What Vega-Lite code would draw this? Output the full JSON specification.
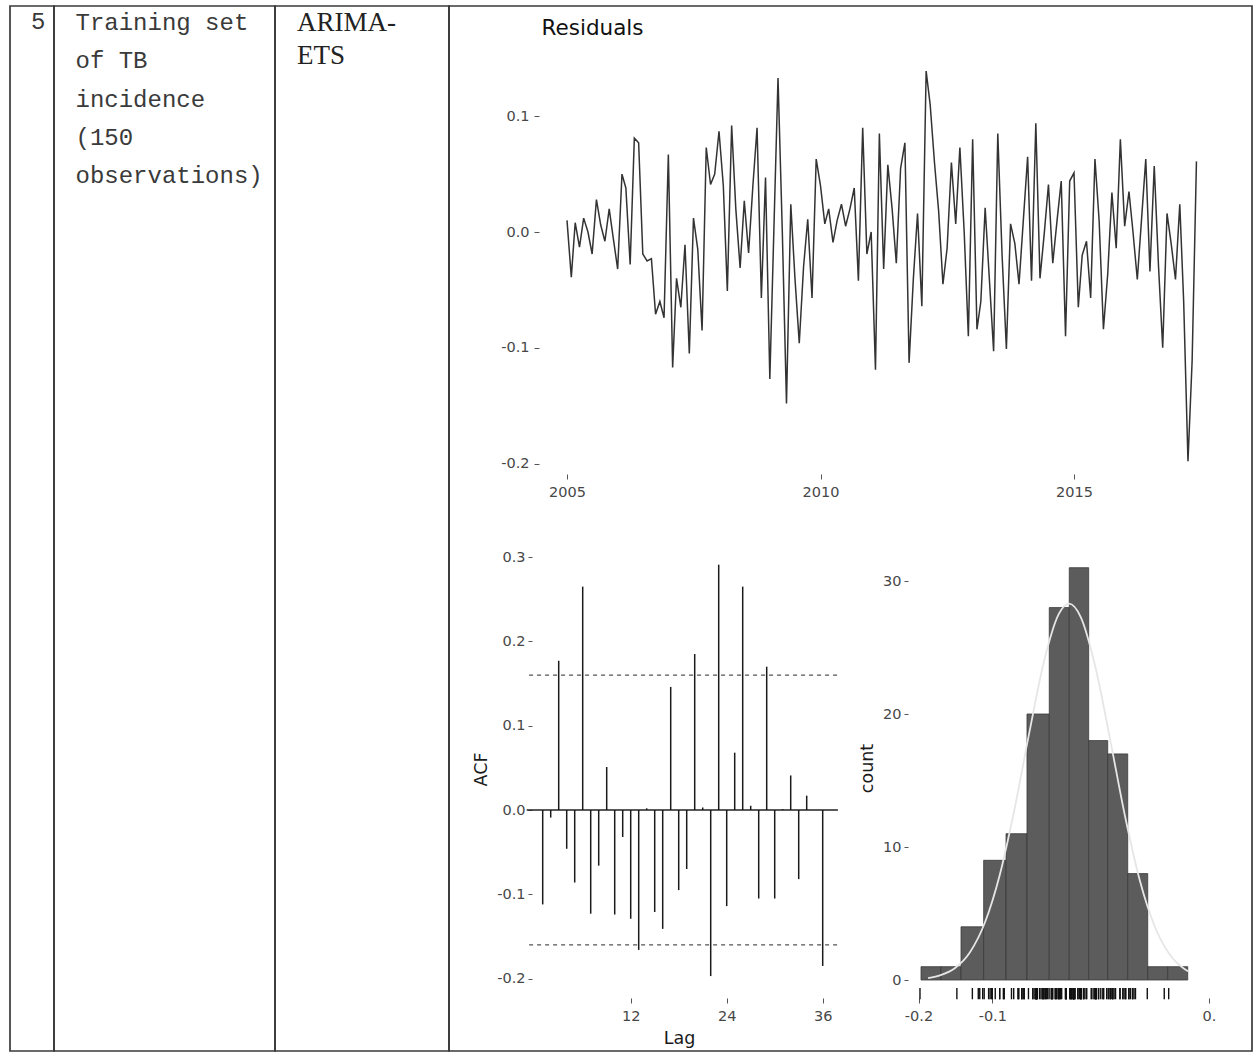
{
  "$schema": "https://vega.github.io/schema/vega-lite/v6.json",
  "background": "white",
  "padding": {"left": 9, "top": 5, "right": 4, "bottom": 5},
  "spacing": 0,
  "bounds": "flush",
  "config": {
    "font": "DejaVu Sans",
    "view": {"stroke": "#3a3a3a", "strokeWidth": 1.7},
    "axis": {
      "grid": false,
      "domain": false,
      "labelFont": "DejaVu Sans",
      "labelFontSize": 14.5,
      "labelColor": "#474747",
      "labelFlush": false,
      "labelOverlap": false,
      "tickColor": "#555555",
      "tickSize": 5,
      "tickWidth": 1,
      "titleFont": "DejaVu Sans",
      "titleFontWeight": "normal",
      "titleFontSize": 17.5,
      "titleColor": "#1a1a1a"
    }
  },
  "datasets": {
    "cellText": [
      {"cell": "no", "line": 1, "text": "5"},
      {"cell": "data", "line": 1, "text": "Training set"},
      {"cell": "data", "line": 2, "text": "of TB"},
      {"cell": "data", "line": 3, "text": "incidence"},
      {"cell": "data", "line": 4, "text": "(150"},
      {"cell": "data", "line": 5, "text": "observations)"},
      {"cell": "model", "line": 1, "text": "ARIMA-"},
      {"cell": "model", "line": 2, "text": "ETS"}
    ],
    "residuals": [
      {"month": "2005-01", "resid": 0.010}, {"month": "2005-02", "resid": -0.039}, {"month": "2005-03", "resid": 0.008}, {"month": "2005-04", "resid": -0.013},
      {"month": "2005-05", "resid": 0.012}, {"month": "2005-06", "resid": 0.000}, {"month": "2005-07", "resid": -0.019}, {"month": "2005-08", "resid": 0.028},
      {"month": "2005-09", "resid": 0.006}, {"month": "2005-10", "resid": -0.008}, {"month": "2005-11", "resid": 0.020}, {"month": "2005-12", "resid": -0.006},
      {"month": "2006-01", "resid": -0.032}, {"month": "2006-02", "resid": 0.050}, {"month": "2006-03", "resid": 0.038}, {"month": "2006-04", "resid": -0.028},
      {"month": "2006-05", "resid": 0.081}, {"month": "2006-06", "resid": 0.077}, {"month": "2006-07", "resid": -0.019}, {"month": "2006-08", "resid": -0.025},
      {"month": "2006-09", "resid": -0.023}, {"month": "2006-10", "resid": -0.071}, {"month": "2006-11", "resid": -0.060}, {"month": "2006-12", "resid": -0.074},
      {"month": "2007-01", "resid": 0.067}, {"month": "2007-02", "resid": -0.117}, {"month": "2007-03", "resid": -0.040}, {"month": "2007-04", "resid": -0.065},
      {"month": "2007-05", "resid": -0.011}, {"month": "2007-06", "resid": -0.105}, {"month": "2007-07", "resid": 0.012}, {"month": "2007-08", "resid": -0.015},
      {"month": "2007-09", "resid": -0.085}, {"month": "2007-10", "resid": 0.073}, {"month": "2007-11", "resid": 0.041}, {"month": "2007-12", "resid": 0.050},
      {"month": "2008-01", "resid": 0.087}, {"month": "2008-02", "resid": 0.040}, {"month": "2008-03", "resid": -0.051}, {"month": "2008-04", "resid": 0.092},
      {"month": "2008-05", "resid": 0.020}, {"month": "2008-06", "resid": -0.031}, {"month": "2008-07", "resid": 0.027}, {"month": "2008-08", "resid": -0.018},
      {"month": "2008-09", "resid": 0.040}, {"month": "2008-10", "resid": 0.090}, {"month": "2008-11", "resid": -0.057}, {"month": "2008-12", "resid": 0.047},
      {"month": "2009-01", "resid": -0.127}, {"month": "2009-02", "resid": 0.010}, {"month": "2009-03", "resid": 0.133}, {"month": "2009-04", "resid": 0.000},
      {"month": "2009-05", "resid": -0.148}, {"month": "2009-06", "resid": 0.024}, {"month": "2009-07", "resid": -0.040}, {"month": "2009-08", "resid": -0.096},
      {"month": "2009-09", "resid": -0.030}, {"month": "2009-10", "resid": 0.011}, {"month": "2009-11", "resid": -0.057}, {"month": "2009-12", "resid": 0.063},
      {"month": "2010-01", "resid": 0.040}, {"month": "2010-02", "resid": 0.007}, {"month": "2010-03", "resid": 0.020}, {"month": "2010-04", "resid": -0.009},
      {"month": "2010-05", "resid": 0.010}, {"month": "2010-06", "resid": 0.024}, {"month": "2010-07", "resid": 0.005}, {"month": "2010-08", "resid": 0.020},
      {"month": "2010-09", "resid": 0.038}, {"month": "2010-10", "resid": -0.042}, {"month": "2010-11", "resid": 0.090}, {"month": "2010-12", "resid": -0.019},
      {"month": "2011-01", "resid": 0.000}, {"month": "2011-02", "resid": -0.119}, {"month": "2011-03", "resid": 0.085}, {"month": "2011-04", "resid": -0.032},
      {"month": "2011-05", "resid": 0.058}, {"month": "2011-06", "resid": 0.020}, {"month": "2011-07", "resid": -0.027}, {"month": "2011-08", "resid": 0.055},
      {"month": "2011-09", "resid": 0.077}, {"month": "2011-10", "resid": -0.113}, {"month": "2011-11", "resid": -0.040}, {"month": "2011-12", "resid": 0.016},
      {"month": "2012-01", "resid": -0.064}, {"month": "2012-02", "resid": 0.139}, {"month": "2012-03", "resid": 0.110}, {"month": "2012-04", "resid": 0.060},
      {"month": "2012-05", "resid": 0.018}, {"month": "2012-06", "resid": -0.045}, {"month": "2012-07", "resid": -0.014}, {"month": "2012-08", "resid": 0.060},
      {"month": "2012-09", "resid": 0.007}, {"month": "2012-10", "resid": 0.073}, {"month": "2012-11", "resid": 0.000}, {"month": "2012-12", "resid": -0.090},
      {"month": "2013-01", "resid": 0.080}, {"month": "2013-02", "resid": -0.084}, {"month": "2013-03", "resid": -0.060}, {"month": "2013-04", "resid": 0.021},
      {"month": "2013-05", "resid": -0.040}, {"month": "2013-06", "resid": -0.103}, {"month": "2013-07", "resid": 0.085}, {"month": "2013-08", "resid": -0.020},
      {"month": "2013-09", "resid": -0.101}, {"month": "2013-10", "resid": 0.007}, {"month": "2013-11", "resid": -0.010}, {"month": "2013-12", "resid": -0.045},
      {"month": "2014-01", "resid": 0.010}, {"month": "2014-02", "resid": 0.065}, {"month": "2014-03", "resid": -0.042}, {"month": "2014-04", "resid": 0.094},
      {"month": "2014-05", "resid": -0.040}, {"month": "2014-06", "resid": -0.001}, {"month": "2014-07", "resid": 0.041}, {"month": "2014-08", "resid": -0.027},
      {"month": "2014-09", "resid": 0.010}, {"month": "2014-10", "resid": 0.044}, {"month": "2014-11", "resid": -0.090}, {"month": "2014-12", "resid": 0.044},
      {"month": "2015-01", "resid": 0.051}, {"month": "2015-02", "resid": -0.065}, {"month": "2015-03", "resid": -0.020}, {"month": "2015-04", "resid": -0.008},
      {"month": "2015-05", "resid": -0.057}, {"month": "2015-06", "resid": 0.063}, {"month": "2015-07", "resid": 0.010}, {"month": "2015-08", "resid": -0.084},
      {"month": "2015-09", "resid": -0.036}, {"month": "2015-10", "resid": 0.034}, {"month": "2015-11", "resid": -0.014}, {"month": "2015-12", "resid": 0.080},
      {"month": "2016-01", "resid": 0.005}, {"month": "2016-02", "resid": 0.035}, {"month": "2016-03", "resid": 0.000}, {"month": "2016-04", "resid": -0.041},
      {"month": "2016-05", "resid": 0.010}, {"month": "2016-06", "resid": 0.063}, {"month": "2016-07", "resid": -0.034}, {"month": "2016-08", "resid": 0.057},
      {"month": "2016-09", "resid": -0.030}, {"month": "2016-10", "resid": -0.100}, {"month": "2016-11", "resid": 0.016}, {"month": "2016-12", "resid": -0.010},
      {"month": "2017-01", "resid": -0.041}, {"month": "2017-02", "resid": 0.024}, {"month": "2017-03", "resid": -0.060}, {"month": "2017-04", "resid": -0.198},
      {"month": "2017-05", "resid": -0.111}, {"month": "2017-06", "resid": 0.061}
    ],
    "acf": [
      {"lag": 1, "acf": -0.112}, {"lag": 2, "acf": -0.009}, {"lag": 3, "acf": 0.177}, {"lag": 4, "acf": -0.046},
      {"lag": 5, "acf": -0.086}, {"lag": 6, "acf": 0.265}, {"lag": 7, "acf": -0.123}, {"lag": 8, "acf": -0.066},
      {"lag": 9, "acf": 0.051}, {"lag": 10, "acf": -0.124}, {"lag": 11, "acf": -0.032}, {"lag": 12, "acf": -0.129},
      {"lag": 13, "acf": -0.166}, {"lag": 14, "acf": 0.002}, {"lag": 15, "acf": -0.121}, {"lag": 16, "acf": -0.141},
      {"lag": 17, "acf": 0.146}, {"lag": 18, "acf": -0.095}, {"lag": 19, "acf": -0.070}, {"lag": 20, "acf": 0.185},
      {"lag": 21, "acf": 0.003}, {"lag": 22, "acf": -0.197}, {"lag": 23, "acf": 0.291}, {"lag": 24, "acf": -0.114},
      {"lag": 25, "acf": 0.068}, {"lag": 26, "acf": 0.265}, {"lag": 27, "acf": 0.005}, {"lag": 28, "acf": -0.105},
      {"lag": 29, "acf": 0.170}, {"lag": 30, "acf": -0.105}, {"lag": 31, "acf": 0.001}, {"lag": 32, "acf": 0.041},
      {"lag": 33, "acf": -0.082}, {"lag": 34, "acf": 0.017}, {"lag": 35, "acf": 0.000}, {"lag": 36, "acf": -0.185}
    ],
    "acfRefs": [
      {"kind": "zero", "level": 0},
      {"kind": "bound", "level": 0.16},
      {"kind": "bound", "level": -0.16}
    ],
    "bins": [
      {"bin_start": -0.1966, "bin_end": -0.1695, "count": 1},
      {"bin_start": -0.1695, "bin_end": -0.1424, "count": 1},
      {"bin_start": -0.1424, "bin_end": -0.1117, "count": 4},
      {"bin_start": -0.1117, "bin_end": -0.0814, "count": 9},
      {"bin_start": -0.0814, "bin_end": -0.0530, "count": 11},
      {"bin_start": -0.0530, "bin_end": -0.0228, "count": 20},
      {"bin_start": -0.0228, "bin_end": 0.0043, "count": 28},
      {"bin_start": 0.0043, "bin_end": 0.0306, "count": 31},
      {"bin_start": 0.0306, "bin_end": 0.0564, "count": 18},
      {"bin_start": 0.0564, "bin_end": 0.0835, "count": 17},
      {"bin_start": 0.0835, "bin_end": 0.1106, "count": 8},
      {"bin_start": 0.1106, "bin_end": 0.1377, "count": 1},
      {"bin_start": 0.1377, "bin_end": 0.1648, "count": 1}
    ],
    "normalCurve": [
      {"v": -0.187, "dens": 0.14}, {"v": -0.17, "dens": 0.36}, {"v": -0.15, "dens": 0.92}, {"v": -0.13, "dens": 2.11},
      {"v": -0.11, "dens": 4.32}, {"v": -0.09, "dens": 7.88}, {"v": -0.07, "dens": 12.82}, {"v": -0.05, "dens": 18.56},
      {"v": -0.03, "dens": 23.94}, {"v": -0.01, "dens": 27.51}, {"v": 0.004, "dens": 28.3}, {"v": 0.02, "dens": 27.27},
      {"v": 0.04, "dens": 23.46}, {"v": 0.06, "dens": 17.98}, {"v": 0.08, "dens": 12.27}, {"v": 0.10, "dens": 7.46},
      {"v": 0.12, "dens": 4.04}, {"v": 0.14, "dens": 1.95}, {"v": 0.16, "dens": 0.84}, {"v": 0.166, "dens": 0.64}
    ]
  },
  "hconcat": [
    {
      "width": 44,
      "height": 1045,
      "data": {"name": "cellText"},
      "transform": [{"filter": "datum.cell == 'no'"}],
      "mark": {"type": "text", "font": "Liberation Mono", "fontSize": 24, "align": "left", "baseline": "alphabetic", "color": "#3a3a3a", "dx": 21},
      "encoding": {
        "x": {"datum": 0, "type": "quantitative", "scale": {"domain": [0, 1]}, "axis": null},
        "y": {"field": "line", "type": "quantitative", "scale": {"domain": [1, 5], "range": [23.3, 176.7]}, "axis": null},
        "text": {"field": "text"}
      }
    },
    {
      "width": 221,
      "height": 1045,
      "data": {"name": "cellText"},
      "transform": [{"filter": "datum.cell == 'data'"}],
      "mark": {"type": "text", "font": "Liberation Mono", "fontSize": 24, "align": "left", "baseline": "alphabetic", "color": "#3a3a3a", "dx": 21.5},
      "encoding": {
        "x": {"datum": 0, "type": "quantitative", "scale": {"domain": [0, 1]}, "axis": null},
        "y": {"field": "line", "type": "quantitative", "scale": {"domain": [1, 5], "range": [24.3, 176.7]}, "axis": null},
        "text": {"field": "text"}
      }
    },
    {
      "width": 174,
      "height": 1045,
      "data": {"name": "cellText"},
      "transform": [{"filter": "datum.cell == 'model'"}],
      "mark": {"type": "text", "font": "Liberation Serif", "fontSize": 27, "align": "left", "baseline": "alphabetic", "color": "#222222", "dx": 22},
      "encoding": {
        "x": {"datum": 0, "type": "quantitative", "scale": {"domain": [0, 1]}, "axis": null},
        "y": {"field": "line", "type": "quantitative", "scale": {"domain": [1, 2], "range": [25, 58.3]}, "axis": null},
        "text": {"field": "text"}
      }
    },
    {
      "width": 803,
      "height": 1045,
      "resolve": {"scale": {"x": "independent", "y": "independent"}, "axis": {"x": "independent", "y": "independent"}},
      "layer": [
        {
          "data": {"name": "residuals"},
          "mark": {"type": "line", "color": "#333333", "strokeWidth": 1.5},
          "encoding": {
            "x": {
              "field": "month", "type": "temporal",
              "scale": {"type": "utc", "domain": [{"year": 2005, "month": 1, "date": 1, "utc": true}, {"year": 2015, "month": 1, "date": 1, "utc": true}], "range": [118, 625], "nice": false},
              "axis": {"orient": "bottom", "offset": -577, "title": null, "values": [{"year": 2005, "month": 1, "date": 1, "utc": true}, {"year": 2010, "month": 1, "date": 1, "utc": true}, {"year": 2015, "month": 1, "date": 1, "utc": true}], "labelExpr": "utcFormat(datum.value, '%Y')", "labelPadding": 6}
            },
            "y": {
              "field": "resid", "type": "quantitative",
              "scale": {"domain": [-0.2, 0.1], "range": [457.6, 110.2], "zero": false, "nice": false},
              "axis": {"orient": "left", "offset": -90, "values": [-0.2, -0.1, 0, 0.1], "labelExpr": "replace(format(datum.value, '.1f'), '\u2212', '-')", "labelPadding": 5, "title": "Residuals", "titleAngle": 0, "titleAlign": "left", "titleBaseline": "alphabetic", "titleX": 2, "titleY": 28, "titleFontSize": 21.5, "titleColor": "#111111"}
            }
          }
        },
        {
          "data": {"name": "acfRefs"},
          "transform": [{"filter": "datum.kind == 'zero'"}],
          "mark": {"type": "rule", "color": "#222222", "strokeWidth": 1.4},
          "encoding": {
            "x": {"datum": -1.0, "type": "quantitative", "scale": {"domain": [0, 36], "range": [85.7, 373.7], "nice": false, "zero": false}, "axis": null},
            "x2": {"datum": 37.9},
            "y": {"field": "level", "type": "quantitative", "scale": {"domain": [-0.2, 0.3], "range": [972.6, 551.1], "nice": false, "zero": false}, "axis": null}
          }
        },
        {
          "data": {"name": "acfRefs"},
          "transform": [{"filter": "datum.kind == 'bound'"}],
          "mark": {"type": "rule", "color": "#555555", "strokeWidth": 1.3, "strokeDash": [4, 4]},
          "encoding": {
            "x": {"datum": -0.7, "type": "quantitative", "scale": {"domain": [0, 36], "range": [85.7, 373.7], "nice": false, "zero": false}, "axis": null},
            "x2": {"datum": 37.9},
            "y": {"field": "level", "type": "quantitative", "scale": {"domain": [-0.2, 0.3], "range": [972.6, 551.1], "nice": false, "zero": false}, "axis": null}
          }
        },
        {
          "data": {"name": "acf"},
          "mark": {"type": "rule", "color": "#1a1a1a", "strokeWidth": 1.5},
          "encoding": {
            "x": {
              "field": "lag", "type": "quantitative",
              "scale": {"domain": [0, 36], "range": [85.7, 373.7], "nice": false, "zero": false},
              "axis": {"orient": "bottom", "offset": -53, "values": [12, 24, 36], "format": "d", "labelPadding": 6, "title": "Lag", "titleX": 230, "titleY": 45, "titleBaseline": "alphabetic", "titleAlign": "center"}
            },
            "y": {
              "field": "acf", "type": "quantitative",
              "scale": {"domain": [-0.2, 0.3], "range": [972.6, 551.1], "nice": false, "zero": false},
              "axis": {"orient": "left", "offset": -83, "values": [-0.2, -0.1, 0, 0.1, 0.2, 0.3], "labelExpr": "replace(format(datum.value, '.1f'), '\u2212', '-')", "labelPadding": 3, "tickSize": 4, "title": "ACF", "titleX": -51, "titleY": 763, "titleAlign": "center", "titleBaseline": "middle"}
            },
            "y2": {"datum": 0}
          }
        },
        {
          "data": {"name": "bins"},
          "mark": {"type": "rect", "fill": "#5c5c5c", "stroke": "#3a3a3a", "strokeWidth": 0.8},
          "encoding": {
            "x": {
              "field": "bin_start", "type": "quantitative",
              "scale": {"domain": [-0.2, 0.2], "range": [469.5, 764.7], "nice": false, "zero": false},
              "axis": {"orient": "bottom", "offset": -53, "values": [-0.2, -0.1, 0.1936], "labelExpr": "datum.value > 0.15 ? '0.' : replace(format(datum.value, '.1f'), '\u2212', '-')", "labelPadding": 6, "title": null}
            },
            "x2": {"field": "bin_end"},
            "y": {
              "field": "count", "type": "quantitative",
              "scale": {"domain": [0, 30], "range": [974, 575], "nice": false, "zero": false},
              "axis": {"orient": "left", "offset": -459, "values": [0, 10, 20, 30], "format": "d", "labelPadding": 3, "tickSize": 4, "title": "count", "titleX": -41, "titleY": 762, "titleAlign": "center", "titleBaseline": "middle"}
            },
            "y2": {"datum": 0}
          }
        },
        {
          "data": {"name": "normalCurve"},
          "mark": {"type": "line", "color": "#e6e6e6", "strokeWidth": 1.8, "interpolate": "monotone"},
          "encoding": {
            "x": {"field": "v", "type": "quantitative", "scale": {"domain": [-0.2, 0.2], "range": [469.5, 764.7], "nice": false, "zero": false}, "axis": null},
            "y": {"field": "dens", "type": "quantitative", "scale": {"domain": [0, 30], "range": [974, 575], "nice": false, "zero": false}, "axis": null}
          }
        },
        {
          "data": {"name": "residuals"},
          "mark": {"type": "rule", "color": "#111111", "strokeWidth": 1.4},
          "encoding": {
            "x": {"field": "resid", "type": "quantitative", "scale": {"domain": [-0.2, 0.2], "range": [469.5, 764.7], "nice": false, "zero": false}, "axis": null},
            "y": {"datum": -0.6, "type": "quantitative", "scale": {"domain": [0, 30], "range": [974, 575], "nice": false, "zero": false}, "axis": null},
            "y2": {"datum": -1.45}
          }
        }
      ]
    }
  ]
}
